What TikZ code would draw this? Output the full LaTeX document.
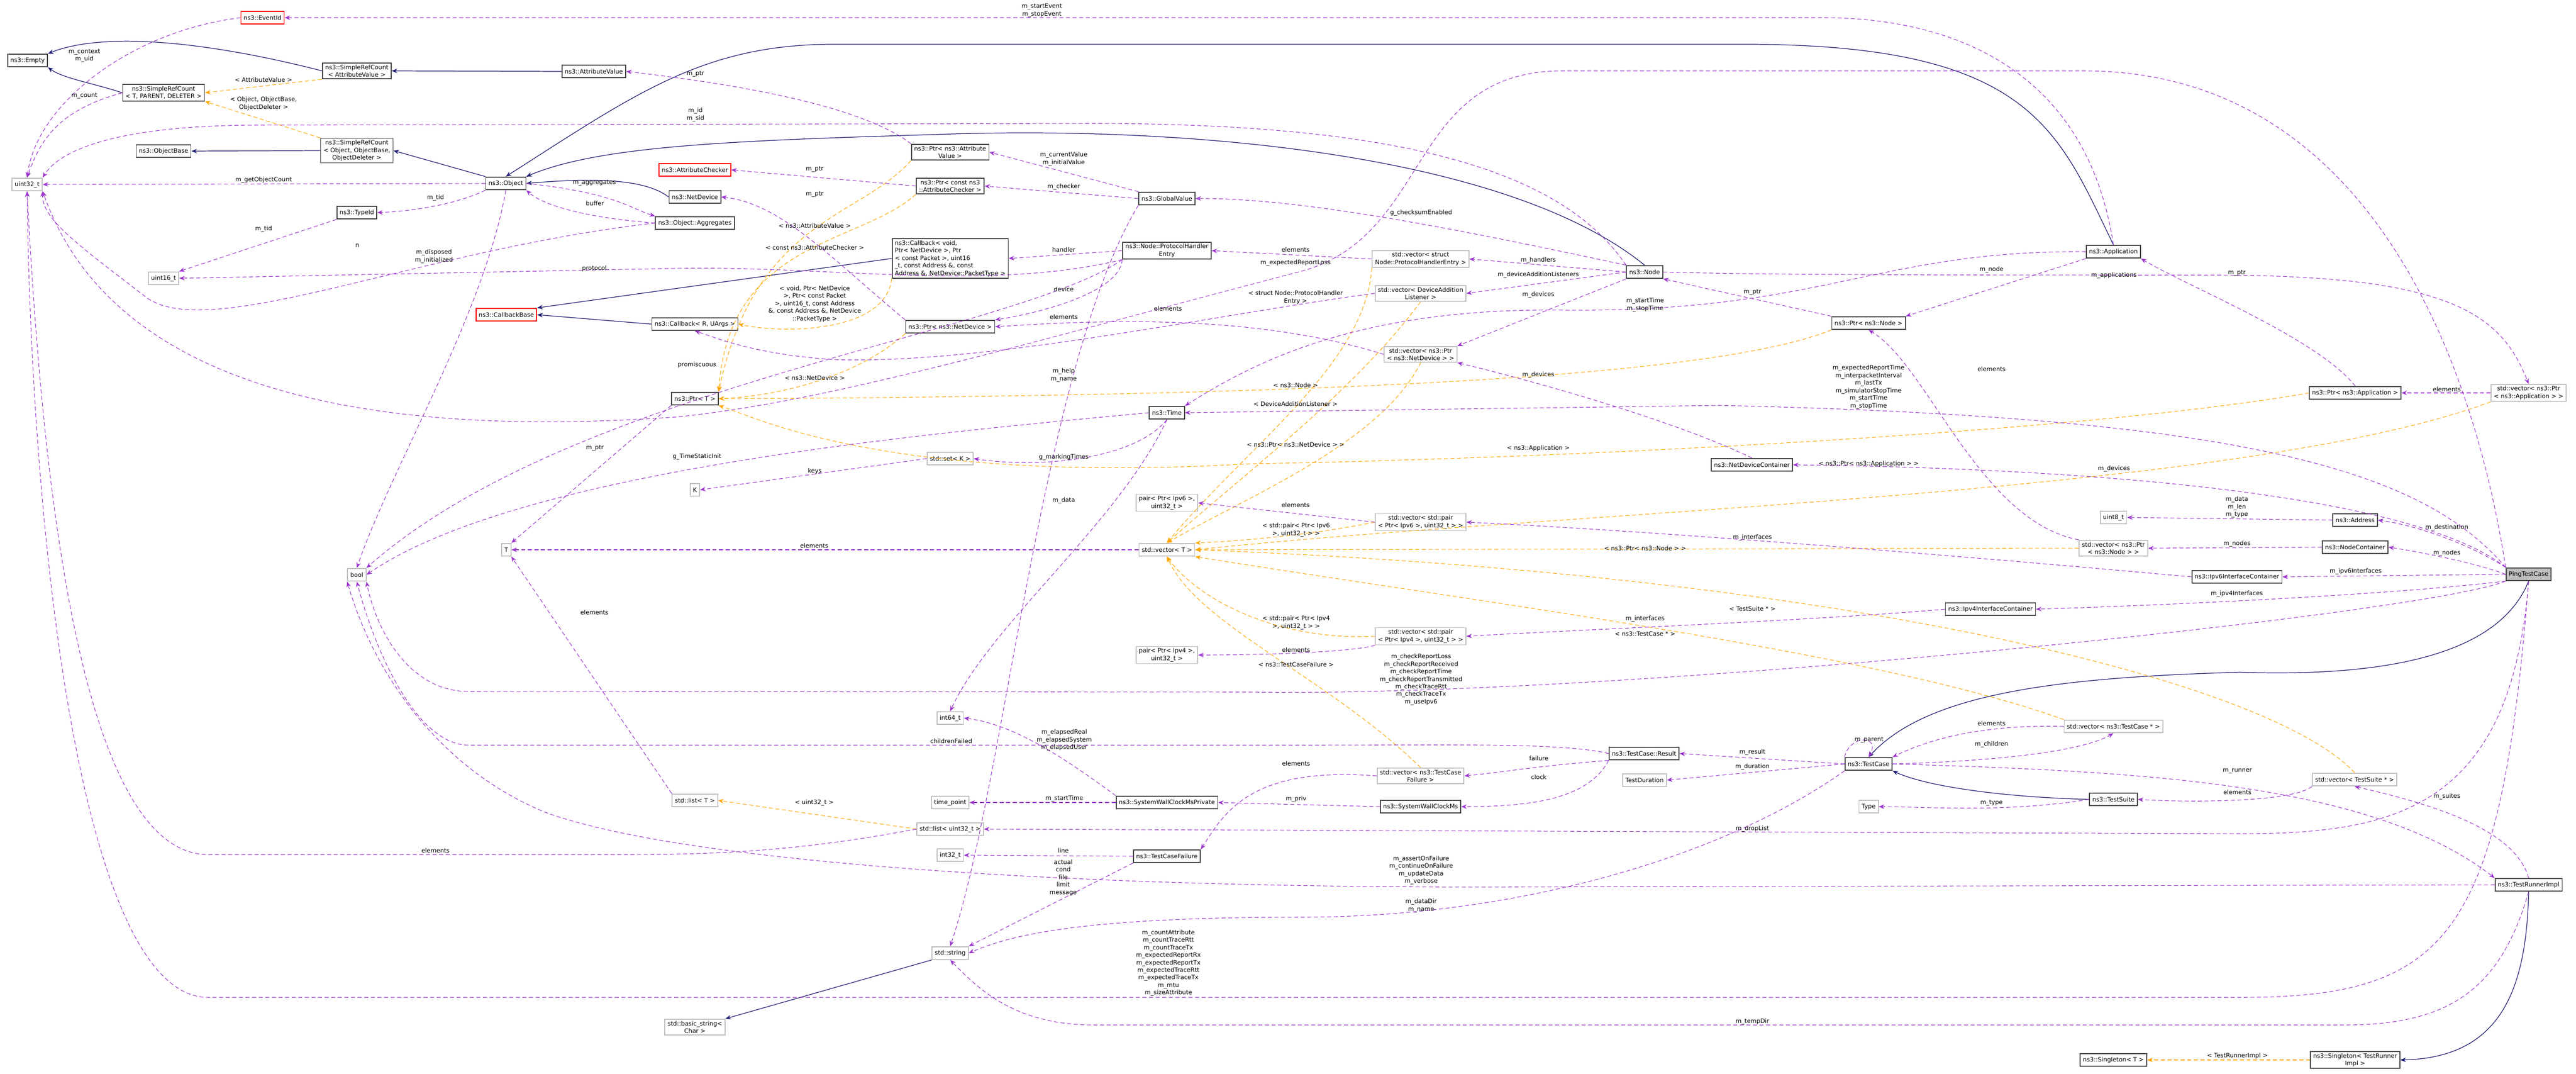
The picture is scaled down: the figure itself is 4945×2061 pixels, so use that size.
\documentclass[tikz,border=0pt]{standalone}
\usepackage{fontspec}
\setmainfont{DejaVu Sans}
\usetikzlibrary{arrows.meta}
\definecolor{cuse}{HTML}{9A32CD}
\definecolor{cinh}{HTML}{191970}
\definecolor{ctpl}{HTML}{FFA500}
\definecolor{cext}{HTML}{BFBFBF}
\definecolor{cbd}{HTML}{404040}
\catcode`\_=12
\tikzset{
  box/.style={draw=cbd,line width=0.5pt,font=\fontsize{3.3}{4.1}\selectfont,inner xsep=1.5pt,inner ysep=1pt,minimum height=7pt,align=center,fill=white},
  ext/.style={box,draw=cext},
  redb/.style={box,draw=red},
  focus/.style={box,fill=cext},
  lbl/.style={font=\fontsize{3.3}{4.1}\selectfont,align=center,inner sep=0pt},
  use/.style={draw=cuse,dashed,dash pattern=on 2.2pt off 1.4pt,line width=0.3pt,-{Stealth[length=3pt,width=2.4pt]}},
  inh/.style={draw=cinh,line width=0.35pt,-{Stealth[length=3pt,width=2.4pt]}},
  tpl/.style={draw=ctpl,dashed,dash pattern=on 2.2pt off 1.4pt,line width=0.3pt,-{Stealth[length=3pt,width=2.4pt]}},
}
\begin{document}
\begin{tikzpicture}[x=0.01cm,y=-0.01cm]
\useasboundingbox (0,0) rectangle (4945,2061);
% nodes
\node[redb] (eventid) at (504,34) {ns3::EventId};
\node[box] (empty) at (53,116) {ns3::Empty};
\node[box] (srcav) at (685,136) {ns3::SimpleRefCount\\< AttributeValue >};
\node[box] (attrval) at (1140,137) {ns3::AttributeValue};
\node[box] (srct) at (314,178) {ns3::SimpleRefCount\\< T, PARENT, DELETER >};
\node[box] (srco) at (685,289) {ns3::SimpleRefCount\\< Object, ObjectBase,\\ ObjectDeleter >};
\node[box] (objbase) at (314,290) {ns3::ObjectBase};
\node[ext] (u32) at (52,354) {uint32_t};
\node[box] (object) at (971,352) {ns3::Object};
\node[box] (typeid) at (685,408) {ns3::TypeId};
\node[ext] (u16) at (314,534) {uint16_t};
\node[redb] (cbb) at (972,604) {ns3::CallbackBase};
\node[redb] (attrchk) at (1334,326) {ns3::AttributeChecker};
\node[box] (netdev) at (1334,378) {ns3::NetDevice};
\node[box] (agg) at (1334,428) {ns3::Object::Aggregates};
\node[box] (cbr) at (1334,622) {ns3::Callback< R, UArgs >};
\node[box] (ptrt) at (1334,765) {ns3::Ptr< T >};
\node[ext] (kk) at (1334,940) {K};
\node[ext] (listt) at (1334,1536) {std::list< T >};
\node[ext] (bstr) at (1334,1971) {std::basic_string<\\ Char >};
\node[box] (ptrav) at (1824,292) {ns3::Ptr< ns3::Attribute\\Value >};
\node[box] (ptrac) at (1824,357) {ns3::Ptr< const ns3\\::AttributeChecker >};
\node[box,align=left] (cbv) at (1824,496) {ns3::Callback< void,\\ Ptr< NetDevice >, Ptr\\< const Packet >, uint16\\_t, const Address \&, const\\ Address \&, NetDevice::PacketType >};
\node[box] (pnd) at (1824,627) {ns3::Ptr< ns3::NetDevice >};
\node[ext] (setk) at (1824,880) {std::set< K >};
\node[ext] (int64) at (1824,1378) {int64_t};
\node[ext] (tp) at (1824,1540) {time_point};
\node[ext] (lu32) at (1824,1591) {std::list< uint32_t >};
\node[ext] (int32) at (1824,1641) {int32_t};
\node[ext] (str) at (1824,1829) {std::string};
\node[ext] (bool) at (685,1103) {bool};
\node[ext] (tt) at (972,1055) {T};
\node[box] (gv) at (2240,381) {ns3::GlobalValue};
\node[box] (phe) at (2240,481) {ns3::Node::ProtocolHandler\\Entry};
\node[box] (time) at (2240,792) {ns3::Time};
\node[ext] (pair6) at (2240,965) {pair< Ptr< Ipv6 >,\\ uint32_t >};
\node[ext] (vect) at (2240,1055) {std::vector< T >};
\node[ext] (pair4) at (2240,1257) {pair< Ptr< Ipv4 >,\\ uint32_t >};
\node[box] (swcmp) at (2240,1540) {ns3::SystemWallClockMsPrivate};
\node[box] (tcf) at (2240,1643) {ns3::TestCaseFailure};
\node[ext] (vphe) at (2727,497) {std::vector< struct\\ Node::ProtocolHandlerEntry >};
\node[ext] (vdal) at (2727,563) {std::vector< DeviceAddition\\Listener >};
\node[ext] (vpnd) at (2727,680) {std::vector< ns3::Ptr\\< ns3::NetDevice > >};
\node[ext] (vp6) at (2727,1002) {std::vector< std::pair\\< Ptr< Ipv6 >, uint32_t > >};
\node[ext] (vp4) at (2727,1221) {std::vector< std::pair\\< Ptr< Ipv4 >, uint32_t > >};
\node[ext] (vtcf) at (2727,1489) {std::vector< ns3::TestCase\\Failure >};
\node[box] (swcm) at (2727,1548) {ns3::SystemWallClockMs};
\node[box] (node) at (3157,522) {ns3::Node};
\node[box] (result) at (3156,1446) {ns3::TestCase::Result};
\node[ext] (tdur) at (3157,1497) {TestDuration};
\node[box] (ndc) at (3363,892) {ns3::NetDeviceContainer};
\node[box] (pnode) at (3587,620) {ns3::Ptr< ns3::Node >};
\node[box] (tc) at (3587,1466) {ns3::TestCase};
\node[ext] (type) at (3587,1548) {Type};
\node[box] (ipv4ic) at (3821,1169) {ns3::Ipv4InterfaceContainer};
\node[box] (app) at (4057,483) {ns3::Application};
\node[ext] (u8) at (4057,993) {uint8_t};
\node[ext] (vpnode) at (4057,1052) {std::vector< ns3::Ptr\\< ns3::Node > >};
\node[ext] (vtc) at (4057,1394) {std::vector< ns3::TestCase * >};
\node[box] (ts) at (4057,1534) {ns3::TestSuite};
\node[box] (st) at (4057,2034) {ns3::Singleton< T >};
\node[box] (ipv6ic) at (4294,1107) {ns3::Ipv6InterfaceContainer};
\node[box] (papp) at (4521,754) {ns3::Ptr< ns3::Application >};
\node[box] (addr) at (4521,998) {ns3::Address};
\node[box] (nc) at (4521,1050) {ns3::NodeContainer};
\node[ext] (vts) at (4520,1496) {std::vector< TestSuite * >};
\node[box] (stri) at (4521,2034) {ns3::Singleton< TestRunner\\Impl >};
\node[ext] (vpapp) at (4854,754) {std::vector< ns3::Ptr\\< ns3::Application > >};
\node[focus] (ptc) at (4854,1102) {PingTestCase};
\node[box] (tri) at (4854,1698) {ns3::TestRunnerImpl};
% inheritance
\draw[inh] (srcav.west) .. controls (400,80) and (200,60) .. (empty.north east);
\draw[inh] (srct.west) .. controls (180,160) and (120,150) .. (empty.south east);
\draw[inh] (attrval.west) -- (srcav.east);
\draw[inh] (srco.west) -- (objbase.east);
\draw[inh] (object.north west) -- (srco.east);
\draw[inh] (node.north) .. controls (2900,300) and (2300,240) .. (1800,258) .. controls (1400,270) and (1150,280) .. (object.north east);
\draw[inh] (app.north) .. controls (3950,250) and (3900,85) .. (3350,85) -- (1600,85) .. controls (1350,85) and (1220,180) .. (object.north);
\draw[inh] (netdev.west) .. controls (1240,345) and (1150,340) .. (object.east);
\draw[inh] (cbv.west) -- (cbb.north east);
\draw[inh] (cbr.west) -- (cbb.east);
\draw[inh] (ts.west) .. controls (3850,1530) and (3700,1510) .. (tc.south east);
\draw[inh] (ptc.south) .. controls (4800,1250) and (4600,1300) .. (4300,1290) .. controls (3950,1300) and (3700,1330) .. (tc.north);
\draw[inh] (str.south west) -- (bstr.north east);
\draw[inh] (tri.south) .. controls (4850,1900) and (4800,2030) .. (stri.east);
% templates
\draw[tpl] (srcav.south west) -- node[lbl,above,pos=0.5,yshift=2pt]{< AttributeValue >} (srct.east);
\draw[tpl] (srco.north west) -- (srct.south east);
\node[lbl] (l1) at (506,199) {< Object, ObjectBase,\\ObjectDeleter >};
\draw[tpl] (ptrav.south west) .. controls (1650,420) and (1450,420) .. (ptrt.north east);
\draw[tpl] (ptrac.south west) .. controls (1650,470) and (1400,460) .. (ptrt.north east);
\draw[tpl] (cbv.south west) .. controls (1700,640) and (1500,640) .. (cbr.east);
\draw[tpl] (pnd.south west) .. controls (1650,720) and (1500,760) .. (ptrt.east);
\draw[tpl] (pnode.south west) .. controls (3300,720) and (2600,760) .. (ptrt.east);
\draw[tpl] (papp.west) .. controls (4000,830) and (3000,880) .. (2400,890) .. controls (1700,930) and (1450,800) .. (ptrt.south east);
\draw[tpl] (vphe.south west) .. controls (2620,700) and (2400,850) .. (vect.north);
\draw[tpl] (vdal.south) .. controls (2600,750) and (2400,900) .. (vect.north);
\draw[tpl] (vpnd.south) .. controls (2650,850) and (2400,950) .. (vect.north);
\draw[tpl] (vp6.west) .. controls (2500,1030) and (2350,1040) .. (vect.north east);
\draw[tpl] (vp4.west) .. controls (2450,1230) and (2300,1150) .. (vect.south);
\draw[tpl] (vpnode.west) -- (vect.east);
\draw[tpl] (vpapp.south west) .. controls (4300,950) and (3000,980) .. (vect.east);
\draw[tpl] (vtcf.north) .. controls (2550,1300) and (2300,1200) .. (vect.south);
\draw[tpl] (vtc.north west) .. controls (3600,1250) and (2800,1150) .. (vect.south east);
\draw[tpl] (vts.north) .. controls (4350,1300) and (3500,1100) .. (vect.east);
\draw[tpl] (lu32.west) -- (listt.east);
\draw[tpl] (stri.west) -- (st.east);
% uses
\draw[use] (eventid.west) .. controls (250,60) and (70,200) .. (u32.north);
\draw[use] (srct.west) .. controls (120,210) and (80,260) .. (u32.north);
\draw[use] (app.north) .. controls (4000,100) and (3700,34) .. (3500,34) -- (eventid.east);
\draw[use] (ptrav.north west) .. controls (1650,200) and (1400,160) .. (attrval.east);
\draw[use] (node.north west) .. controls (3000,330) and (2700,237) .. (2100,237) -- (500,240) .. controls (250,240) and (120,280) .. (u32.north east);
\draw[use] (object.west) -- (u32.east);
\draw[use] (object.south west) .. controls (880,390) and (800,405) .. (typeid.east);
\draw[use] (typeid.south west) -- (u16.north east);
\draw[use] (object.east) .. controls (1180,370) and (1210,400) .. (agg.north west);
\draw[use] (agg.west) .. controls (1150,420) and (1050,400) .. (object.south east);
\draw[use] (agg.west) .. controls (800,480) and (400,660) .. (280,570) .. controls (150,470) and (80,420) .. (u32.south east);
\draw[use] (object.south) .. controls (930,600) and (750,900) .. (bool.north);
\draw[use] (phe.south west) .. controls (1900,560) and (1600,510) .. (1300,515) -- (u16.east);
\draw[use] (ptrac.west) -- (attrchk.east);
\draw[use] (pnd.north west) .. controls (1600,500) and (1500,390) .. (netdev.east);
\draw[use] (gv.north west) -- (ptrav.east);
\draw[use] (gv.west) -- (ptrac.east);
\draw[use] (gv.south west) .. controls (2000,700) and (1930,1500) .. (str.north);
\draw[use] (node.north west) .. controls (2800,440) and (2500,380) .. (gv.east);
\draw[use] (phe.west) -- (cbv.east);
\draw[use] (phe.south west) .. controls (2150,560) and (2000,600) .. (pnd.north east);
\draw[use] (phe.south west) .. controls (1950,640) and (1100,740) .. (bool.north east);
\draw[use] (vphe.west) -- (phe.east);
\draw[use] (node.west) -- (vphe.east);
\draw[use] (node.west) -- (vdal.east);
\draw[use] (node.south west) -- (vpnd.north east);
\draw[use] (vdal.west) .. controls (2350,600) and (1900,700) .. (1600,690) .. controls (1450,680) and (1380,650) .. (cbr.south);
\draw[use] (vpnd.west) .. controls (2400,600) and (2100,615) .. (pnd.east);
\draw[use] (ptrt.south west) -- (tt.north east);
\draw[use] (time.west) .. controls (1800,830) and (1000,900) .. (bool.east);
\draw[use] (time.south) .. controls (2180,880) and (2000,900) .. (setk.east);
\draw[use] (time.south) .. controls (2150,1000) and (1900,1200) .. (int64.north);
\draw[use] (setk.west) -- (kk.east);
\draw[use] (app.west) .. controls (3600,480) and (3500,600) .. (3000,595) .. controls (2600,590) and (2400,700) .. (time.north east);
\draw[use] (app.south west) -- (pnode.north east);
\draw[use] (pnode.north west) -- (node.south east);
\draw[use] (node.east) .. controls (3400,528) and (3800,528) .. (4250,528) .. controls (4700,528) and (4800,600) .. (vpapp.north);
\draw[use] (papp.north) .. controls (4450,650) and (4200,550) .. (app.south east);
\draw[use] (vpapp.west) -- (papp.east);
\draw[use] (ptc.north west) .. controls (4650,900) and (4300,800) .. (3300,778) -- (time.east);
\draw[use] (ptc.north west) .. controls (4650,960) and (4100,900) .. (ndc.east);
\draw[use] (ndc.north) .. controls (3200,800) and (2900,720) .. (vpnd.south east);
\draw[use] (ptc.north west) .. controls (4750,700) and (4550,136) .. (4000,136) -- (3000,136) .. controls (2700,136) and (2750,450) .. (2500,520) .. controls (2000,650) and (1600,770) .. (1300,800) .. controls (600,850) and (200,700) .. (u32.south east);
\draw[use] (addr.west) -- (u8.east);
\draw[use] (ptc.north west) .. controls (4750,1050) and (4650,1010) .. (addr.east);
\draw[use] (ptc.west) .. controls (4750,1080) and (4650,1060) .. (nc.east);
\draw[use] (nc.west) -- (vpnode.east);
\draw[use] (vpnode.north west) .. controls (3800,1000) and (3700,700) .. (pnode.south);
\draw[use] (ptc.west) -- (ipv6ic.east);
\draw[use] (ptc.south west) .. controls (4600,1140) and (4200,1160) .. (ipv4ic.east);
\draw[use] (ipv6ic.west) .. controls (3800,1070) and (3200,1020) .. (vp6.east);
\draw[use] (ipv4ic.west) .. controls (3500,1190) and (3000,1210) .. (vp4.east);
\draw[use] (vp6.west) -- (pair6.east);
\draw[use] (vp4.south west) .. controls (2600,1250) and (2450,1257) .. (pair4.east);
\draw[use] (ptc.south west) .. controls (4650,1180) and (3100,1340) .. (2400,1328) -- (900,1327) .. controls (780,1327) and (720,1200) .. (bool.south east);
\draw[use] (vect.west) -- (tt.east);
\draw[use] (listt.north west) -- (tt.south east);
\draw[use] (lu32.west) .. controls (1550,1630) and (1400,1640) .. (1200,1640) -- (400,1640) .. controls (150,1640) and (80,900) .. (u32.south);
\draw[use] (result.west) .. controls (3000,1425) and (2800,1430) .. (2500,1430) -- (900,1430) .. controls (800,1430) and (720,1250) .. (bool.south);
\draw[use] (swcmp.north west) .. controls (2050,1460) and (1950,1390) .. (int64.east);
\draw[use] (swcmp.west) -- (tp.east);
\draw[use] (swcm.west) -- (swcmp.east);
\draw[use] (vtcf.west) .. controls (2400,1470) and (2350,1560) .. (tcf.north east);
\draw[use] (result.south west) .. controls (2950,1470) and (2900,1480) .. (vtcf.east);
\draw[use] (result.south west) .. controls (3050,1530) and (2950,1548) .. (swcm.east);
\draw[use] (tcf.west) -- (int32.east);
\draw[use] (tcf.south west) -- (str.north east);
\draw[use] (tc.west) -- (result.east);
\draw[use] (tc.west) -- (tdur.east);
\draw[use] (tc.north west) .. controls (3550,1410) and (3610,1410) .. (tc.north);
\draw[use] (tc.east) .. controls (3850,1460) and (4000,1440) .. (vtc.south);
\draw[use] (vtc.west) .. controls (3800,1390) and (3700,1420) .. (tc.north east);
\draw[use] (tc.east) .. controls (4100,1480) and (4550,1500) .. (tri.north west);
\draw[use] (tc.south west) .. controls (3300,1650) and (2900,1760) .. (2500,1760) .. controls (2100,1760) and (1950,1790) .. (str.east);
\draw[use] (ts.west) .. controls (3850,1560) and (3700,1548) .. (type.east);
\draw[use] (vts.south west) .. controls (4400,1540) and (4200,1540) .. (ts.east);
\draw[use] (tri.north) .. controls (4830,1600) and (4700,1550) .. (vts.south);
\draw[use] (tri.west) -- (2900,1702) .. controls (2000,1705) and (1300,1650) .. (1050,1560) .. controls (850,1480) and (720,1300) .. (bool.south west);
\draw[use] (tri.south) .. controls (4800,1900) and (4700,1967) .. (4500,1967) -- (2100,1967) .. controls (1950,1967) and (1880,1900) .. (str.south);
\draw[use] (ptc.south) .. controls (4820,1550) and (4600,1600) .. (4300,1600) -- (lu32.east);
\draw[use] (ptc.south) .. controls (4800,1800) and (4700,1914) .. (4300,1914) -- (400,1914) .. controls (150,1914) and (60,1000) .. (u32.south);
% labels
\node[lbl] (a1) at (162,107) {m_context\\m_uid};
\node[lbl] (a2) at (162,184) {m_count};
\node[lbl] (a3) at (506,345) {m_getObjectCount};
\node[lbl] (a4) at (836,379) {m_tid};
\node[lbl] (a5) at (506,439) {m_tid};
\node[lbl] (a6) at (686,471) {n};
\node[lbl] (a7) at (833,492) {m_disposed\\m_initialized};
\node[lbl] (a8) at (1141,515) {protocol};
\node[lbl] (a9) at (1141,351) {m_aggregates};
\node[lbl] (a10) at (1142,390) {buffer};
\node[lbl] (a11) at (1564,325) {m_ptr};
\node[lbl] (a12) at (1564,373) {m_ptr};
\node[lbl] (a13) at (1564,433) {< ns3::AttributeValue >};
\node[lbl] (a14) at (1564,475) {< const ns3::AttributeChecker >};
\node[lbl] (a15) at (1564,583) {< void, Ptr< NetDevice\\ >, Ptr< const Packet\\ >, uint16_t, const Address\\ \&, const Address \&, NetDevice\\ ::PacketType >};
\node[lbl] (a16) at (1338,700) {promiscuous};
\node[lbl] (a17) at (1564,725) {< ns3::NetDevice >};
\node[lbl] (a18) at (2042,479) {handler};
\node[lbl] (a19) at (2042,555) {device};
\node[lbl] (a20) at (2042,608) {elements};
\node[lbl] (a21) at (2042,720) {m_help\\m_name};
\node[lbl] (a22) at (2042,877) {g_markingTimes};
\node[lbl] (a23) at (1564,904) {keys};
\node[lbl] (a24) at (2042,960) {m_data};
\node[lbl] (a25) at (2042,305) {m_currentValue\\m_initialValue};
\node[lbl] (a26) at (2042,358) {m_checker};
\node[lbl] (a27) at (2728,408) {g_checksumEnabled};
\node[lbl] (a28) at (2487,479) {elements};
\node[lbl] (a29) at (2487,504) {m_expectedReportLoss};
\node[lbl] (a30) at (2487,571) {< struct Node::ProtocolHandler\\Entry >};
\node[lbl] (a31) at (2242,592) {elements};
\node[lbl] (a32) at (2487,739) {< ns3::Node >};
\node[lbl] (a33) at (2487,775) {< DeviceAdditionListener >};
\node[lbl] (a34) at (2487,853) {< ns3::Ptr< ns3::NetDevice > >};
\node[lbl] (a35) at (2487,969) {elements};
\node[lbl] (a36) at (1338,876) {g_TimeStaticInit};
\node[lbl] (a37) at (1142,860) {m_ptr};
\node[lbl] (a38) at (1141,1175) {elements};
\node[lbl] (a39) at (836,1632) {elements};
\node[lbl] (b1) at (2953,499) {m_handlers};
\node[lbl] (b2) at (2953,527) {m_deviceAdditionListeners};
\node[lbl] (b3) at (2953,565) {m_devices};
\node[lbl] (b4) at (3158,585) {m_startTime\\m_stopTime};
\node[lbl] (b5) at (3364,561) {m_ptr};
\node[lbl] (b6) at (3823,517) {m_node};
\node[lbl] (b7) at (4058,528) {m_applications};
\node[lbl] (b8) at (4294,524) {m_ptr};
\node[lbl] (b9) at (2953,719) {m_devices};
\node[lbl] (b10) at (3587,743) {m_expectedReportTime\\m_interpacketInterval\\m_lastTx\\m_simulatorStopTime\\m_startTime\\m_stopTime};
\node[lbl] (b11) at (3823,708) {elements};
\node[lbl] (b12) at (2953,860) {< ns3::Application >};
\node[lbl] (b13) at (3587,890) {< ns3::Ptr< ns3::Application > >};
\node[lbl] (b14) at (4058,899) {m_devices};
\node[lbl] (b15) at (4697,747) {elements};
\node[lbl] (b16) at (4294,973) {m_data\\m_len\\m_type};
\node[lbl] (b17) at (4697,1012) {m_destination};
\node[lbl] (b18) at (4294,1043) {m_nodes};
\node[lbl] (b19) at (4697,1061) {m_nodes};
\node[lbl] (b20) at (3364,1031) {m_interfaces};
\node[lbl] (b21) at (3158,1052) {< ns3::Ptr< ns3::Node > >};
\node[lbl] (b22) at (4522,1096) {m_ipv6Interfaces};
\node[lbl] (b23) at (4294,1139) {m_ipv4Interfaces};
\node[lbl] (b24) at (3364,1168) {< TestSuite * >};
\node[lbl] (b25) at (3158,1187) {m_interfaces};
\node[lbl] (c1) at (1563,1047) {elements};
\node[lbl] (c2) at (2488,1017) {< std::pair< Ptr< Ipv6\\ >, uint32_t > >};
\node[lbl] (c3) at (2488,1195) {< std::pair< Ptr< Ipv4\\ >, uint32_t > >};
\node[lbl] (c4) at (2488,1247) {elements};
\node[lbl] (c5) at (2488,1275) {< ns3::TestCaseFailure >};
\node[lbl] (c6) at (2728,1304) {m_checkReportLoss\\m_checkReportReceived\\m_checkReportTime\\m_checkReportTransmitted\\m_checkTraceRtt\\m_checkTraceTx\\m_useIpv6};
\node[lbl] (c7) at (2043,1420) {m_elapsedReal\\m_elapsedSystem\\m_elapsedUser};
\node[lbl] (c8) at (1826,1422) {childrenFailed};
\node[lbl] (c9) at (2488,1465) {elements};
\node[lbl] (c10) at (2954,1455) {failure};
\node[lbl] (c11) at (2954,1491) {clock};
\node[lbl] (c12) at (2043,1532) {m_startTime};
\node[lbl] (c13) at (2488,1533) {m_priv};
\node[lbl] (c14) at (1563,1540) {< uint32_t >};
\node[lbl] (c15) at (2041,1632) {line};
\node[lbl] (c16) at (2041,1684) {actual\\cond\\file\\limit\\message};
\node[lbl] (c17) at (2728,1670) {m_assertOnFailure\\m_continueOnFailure\\m_updateData\\m_verbose};
\node[lbl] (c18) at (2728,1738) {m_dataDir\\m_name};
\node[lbl] (c19) at (2243,1848) {m_countAttribute\\m_countTraceRtt\\m_countTraceTx\\m_expectedReportRx\\m_expectedReportTx\\m_expectedTraceRtt\\m_expectedTraceTx\\m_mtu\\m_sizeAttribute};
\node[lbl] (d1) at (3158,1216) {< ns3::TestCase * >};
\node[lbl] (d2) at (3823,1388) {elements};
\node[lbl] (d3) at (3588,1420) {m_parent};
\node[lbl] (d4) at (3823,1428) {m_children};
\node[lbl] (d5) at (3364,1443) {m_result};
\node[lbl] (d6) at (3364,1471) {m_duration};
\node[lbl] (d7) at (4295,1480) {m_runner};
\node[lbl] (d8) at (4295,1520) {elements};
\node[lbl] (d9) at (4697,1528) {m_suites};
\node[lbl] (d10) at (3823,1541) {m_type};
\node[lbl] (d11) at (3364,1590) {m_dropList};
\node[lbl] (d12) at (3364,1960) {m_tempDir};
\node[lbl] (d13) at (4295,2026) {< TestRunnerImpl >};
\node[lbl] (d14) at (2000,20) {m_startEvent\\m_stopEvent};
\node[lbl] (d15) at (1335,220) {m_id\\m_sid};
\node[lbl] (d16) at (1335,142) {m_ptr};
\end{tikzpicture}
\end{document}
